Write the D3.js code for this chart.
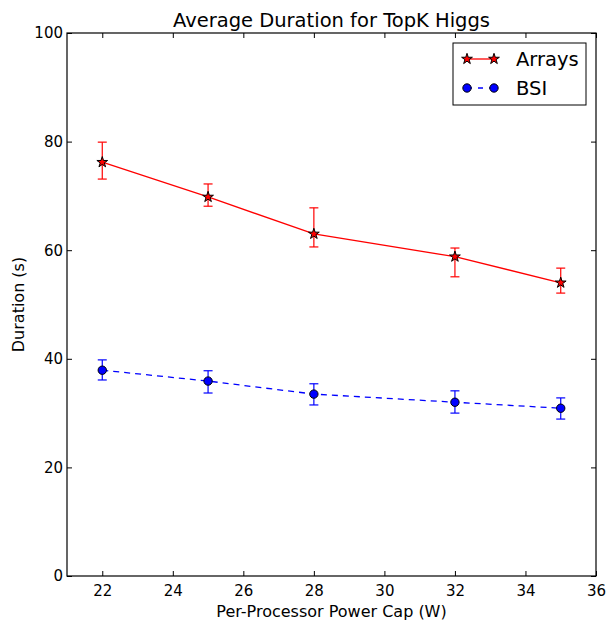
<!DOCTYPE html>
<html>
<head>
<meta charset="utf-8">
<script src="https://cdn.jsdelivr.net/npm/d3@7"></script>
<style>
  body { margin: 0; background: #fff; }
  text { font-family: "DejaVu Sans", sans-serif; }
</style>
</head>
<body>
<div id="chart"></div>
<script>
const powerCaps = [22, 25, 28, 32, 35];
const arraysMean = [76.2, 69.8, 63.0, 58.8, 54.0];
const arraysLow = [73.1, 68.1, 60.6, 55.1, 52.1];
const arraysHigh = [79.9, 72.2, 67.8, 60.4, 56.7];
const bsiMean = [37.9, 35.9, 33.5, 32.0, 30.9];
const bsiLow = [36.1, 33.7, 31.5, 30.0, 28.9];
const bsiHigh = [39.8, 37.8, 35.4, 34.1, 32.8];
const xTicks = [22, 24, 26, 28, 30, 32, 34, 36];
const yTicks = [0, 20, 40, 60, 80, 100];

const width = 608, height = 621;
const margin = { top: 33, right: 12, bottom: 45, left: 67 };

const svg = d3.select("#chart").append("svg")
  .attr("width", width)
  .attr("height", height);

const x = d3.scaleLinear().domain([21, 36]).range([margin.left, width - margin.right]);
const y = d3.scaleLinear().domain([0, 100]).range([height - margin.bottom, margin.top]);

const series = [
  { name: "Arrays", mean: arraysMean, low: arraysLow, high: arraysHigh, color: "#ff0000", dash: null, marker: "star" },
  { name: "BSI", mean: bsiMean, low: bsiLow, high: bsiHigh, color: "#0000ff", dash: "6,5", marker: "circle" }
];

// axes with inward ticks on all four sides
const tickLen = 5;
svg.append("g")
  .attr("transform", `translate(0,${y(0)})`)
  .call(d3.axisBottom(x).tickValues(xTicks).tickSizeInner(-tickLen).tickSizeOuter(0).tickPadding(9))
  .call(g => g.select(".domain").remove());
svg.append("g")
  .attr("transform", `translate(0,${y(100)})`)
  .call(d3.axisTop(x).tickValues(xTicks).tickSizeInner(-tickLen).tickSizeOuter(0).tickFormat(""))
  .call(g => g.select(".domain").remove());
svg.append("g")
  .attr("transform", `translate(${x(21)},0)`)
  .call(d3.axisLeft(y).tickValues(yTicks).tickSizeInner(-tickLen).tickSizeOuter(0).tickPadding(4))
  .call(g => g.select(".domain").remove());
svg.append("g")
  .attr("transform", `translate(${x(36)},0)`)
  .call(d3.axisRight(y).tickValues(yTicks).tickSizeInner(-tickLen).tickSizeOuter(0).tickFormat(""))
  .call(g => g.select(".domain").remove());

svg.selectAll(".tick text").attr("font-size", 15).attr("fill", "#000");
svg.selectAll(".tick line").attr("stroke", "#000");

svg.append("rect")
  .attr("x", x(21)).attr("y", y(100))
  .attr("width", x(36) - x(21)).attr("height", y(0) - y(100))
  .attr("fill", "none").attr("stroke", "#000").attr("stroke-width", 1.2);

const star = d3.symbol().type(d3.symbolStar).size(36);
const dot = d3.symbol().type(d3.symbolCircle).size(55);

series.forEach(s => {
  const pts = powerCaps.map((c, i) => ({ c, m: s.mean[i], lo: s.low[i], hi: s.high[i] }));
  const g = svg.append("g");

  g.append("path")
    .datum(pts)
    .attr("fill", "none")
    .attr("stroke", s.color)
    .attr("stroke-width", 1.3)
    .attr("stroke-dasharray", s.dash)
    .attr("d", d3.line().x(d => x(d.c)).y(d => y(d.m)));

  const eb = g.selectAll(".eb").data(pts).enter().append("g").attr("stroke", s.color).attr("stroke-width", 1.2);
  eb.append("line").attr("x1", d => x(d.c)).attr("x2", d => x(d.c)).attr("y1", d => y(d.lo)).attr("y2", d => y(d.hi));
  eb.append("line").attr("x1", d => x(d.c) - 4.5).attr("x2", d => x(d.c) + 4.5).attr("y1", d => y(d.lo)).attr("y2", d => y(d.lo));
  eb.append("line").attr("x1", d => x(d.c) - 4.5).attr("x2", d => x(d.c) + 4.5).attr("y1", d => y(d.hi)).attr("y2", d => y(d.hi));

  g.selectAll(".mk").data(pts).enter().append("path")
    .attr("transform", d => `translate(${x(d.c)},${y(d.m)})`)
    .attr("d", s.marker === "star" ? star : dot)
    .attr("fill", s.color)
    .attr("stroke", "#000")
    .attr("stroke-width", 1);
});

// legend
const lg = svg.append("g");
lg.append("rect")
  .attr("x", 453).attr("y", 43).attr("width", 133).attr("height", 62)
  .attr("fill", "#fff").attr("stroke", "#000").attr("stroke-width", 1);
series.forEach((s, i) => {
  const ly = 59 + i * 29;
  lg.append("line")
    .attr("x1", 467).attr("x2", 494).attr("y1", ly).attr("y2", ly)
    .attr("stroke", s.color).attr("stroke-width", 1.3)
    .attr("stroke-dasharray", s.dash ? "5,6" : null);
  [467, 494].forEach(px => {
    lg.append("path")
      .attr("transform", `translate(${px},${ly})`)
      .attr("d", s.marker === "star" ? star : dot)
      .attr("fill", s.color).attr("stroke", "#000").attr("stroke-width", 1);
  });
  lg.append("text")
    .attr("x", 516).attr("y", ly).attr("dy", "0.35em")
    .attr("font-size", 19.5).text(s.name);
});

// titles
svg.append("text")
  .attr("x", (x(21) + x(36)) / 2).attr("y", 27)
  .attr("text-anchor", "middle").attr("font-size", 19.5)
  .text("Average Duration for TopK Higgs");
svg.append("text")
  .attr("x", (x(21) + x(36)) / 2).attr("y", 617)
  .attr("text-anchor", "middle").attr("font-size", 16)
  .text("Per-Processor Power Cap (W)");
svg.append("text")
  .attr("transform", `translate(24,${(y(0) + y(100)) / 2}) rotate(-90)`)
  .attr("text-anchor", "middle").attr("font-size", 16)
  .text("Duration (s)");
</script>
</body>
</html>
